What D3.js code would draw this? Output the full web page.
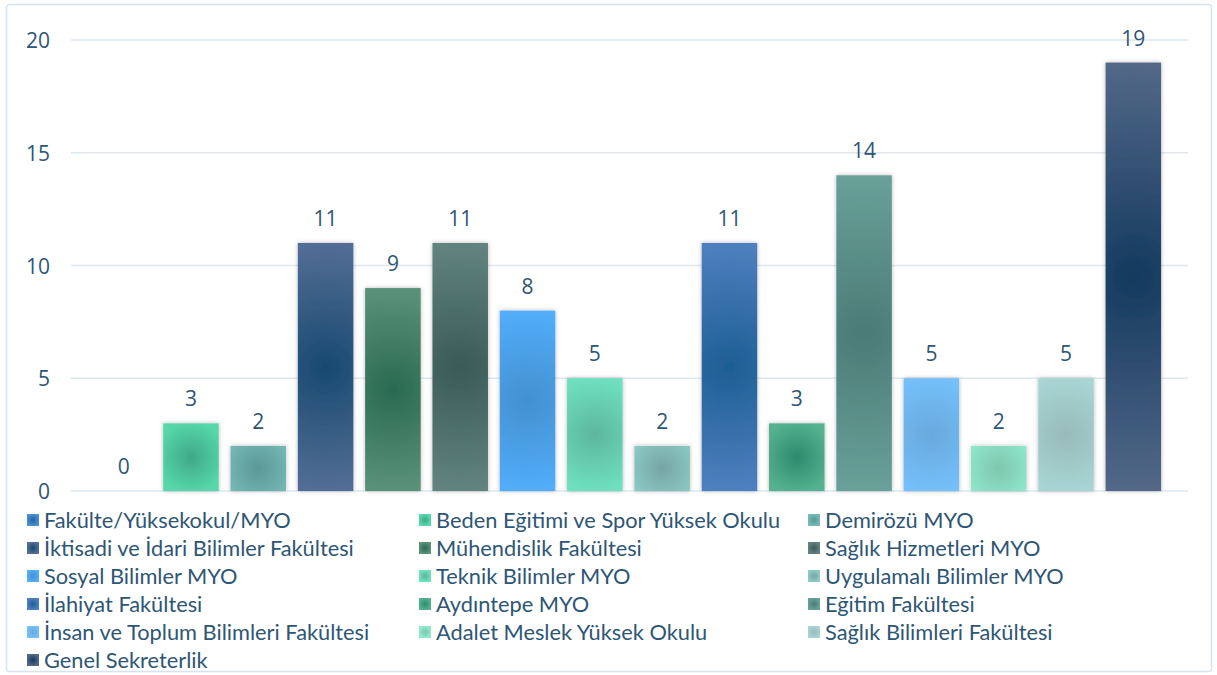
<!DOCTYPE html>
<html><head><meta charset="utf-8">
<script src="https://cdn.jsdelivr.net/npm/d3@7"></script>
<style>body{margin:0;background:#fff}svg{display:block}</style>
</head><body><svg id="c" width="1217" height="675"></svg>
<script>
const categories = ["Fakülte/Yüksekokul/MYO","Beden Eğitimi ve Spor Yüksek Okulu","Demirözü MYO","İktisadi ve İdari Bilimler Fakültesi","Mühendislik Fakültesi","Sağlık Hizmetleri MYO","Sosyal Bilimler MYO","Teknik Bilimler MYO","Uygulamalı Bilimler MYO","İlahiyat Fakültesi","Aydıntepe MYO","Eğitim Fakültesi","İnsan ve Toplum Bilimleri Fakültesi","Adalet Meslek Yüksek Okulu","Sağlık Bilimleri Fakültesi","Genel Sekreterlik"];
const values = [0,3,2,11,9,11,8,5,2,11,3,14,5,2,5,19];
const edgeColors = ["#4a8fd0","#56d8aa","#76bab6","#536e96","#5a9278","#62837f","#52adfa","#6ee0bd","#8ccac6","#4e80c0","#54b290","#68a199","#74bffa","#90e8cd","#a7d5d3","#536888"];
const centerColors = ["#1e64a8","#3fa888","#5a9897","#18496f","#2a6a52","#3a5a57","#4390cf","#5db79c","#76a6a3","#1d5e93","#2e8a6d","#4b7b76","#68aadd","#7ec6ae","#97bbba","#133a5e"];
const yTicks = [0,5,10,15,20];

const svg = d3.select("#c");
const defs = svg.append("defs");
const f = defs.append("filter").attr("id","sh").attr("x","-30%").attr("y","-10%").attr("width","160%").attr("height","120%");
f.append("feDropShadow").attr("dx",0).attr("dy",0).attr("stdDeviation",2.2).attr("flood-color","#000").attr("flood-opacity",0.28);

svg.append("rect").attr("x",6.5).attr("y",4.5).attr("width",1205).attr("height",667).attr("rx",3)
  .attr("fill","#fff").attr("stroke","#d7e4ef").attr("stroke-width",1.5);

const y = d3.scaleLinear().domain([0,20]).range([491,40]);
const x = d3.scaleBand().domain(categories).range([90,1167]).paddingInner(0.175).paddingOuter(0.0875);

const gx0 = 71, gx1 = 1188;
svg.append("g").selectAll("line").data(yTicks).join("line")
  .attr("x1",gx0).attr("x2",gx1).attr("y1",d=>y(d)).attr("y2",d=>y(d))
  .attr("stroke","#dde8f1").attr("stroke-width",1.5);

const numFont = "'Open Sans', sans-serif";
const yAxis = d3.axisLeft(y).tickValues(yTicks).tickSize(0).tickPadding(0);
const ga = svg.append("g").attr("transform","translate(50,0)").call(yAxis);
ga.select(".domain").remove();
ga.selectAll("text").attr("font-family",numFont).attr("font-size",21).attr("fill","#2e5675").attr("dy","0.36em");

categories.forEach((c,i)=>{
  const w = x.bandwidth(), h = y(0)-y(values[i]);
  const cx = x(c)+w/2, cy = y(values[i])+h/2;
  const r = Math.max(h/2, 36);
  const g = defs.append("radialGradient").attr("id","g"+i).attr("gradientUnits","userSpaceOnUse")
    .attr("cx",cx).attr("cy",cy).attr("r",r).attr("fx",cx).attr("fy",cy);
  g.append("stop").attr("offset","0").attr("stop-color",centerColors[i]);
  g.append("stop").attr("offset","1").attr("stop-color",edgeColors[i]);
  const lg = defs.append("radialGradient").attr("id","l"+i);
  lg.append("stop").attr("offset","0").attr("stop-color",centerColors[i]);
  lg.append("stop").attr("offset","1").attr("stop-color",edgeColors[i]);
});

svg.append("g").selectAll("rect").data(values).join("rect")
  .attr("x",(d,i)=>x(categories[i])).attr("y",d=>y(d))
  .attr("width",x.bandwidth()).attr("height",d=>y(0)-y(d))
  .attr("fill",(d,i)=>`url(#g${i})`).attr("filter","url(#sh)");

svg.append("g").selectAll("text").data(values).join("text")
  .attr("x",(d,i)=>x(categories[i])+x.bandwidth()/2).attr("y",d=>y(d)-17)
  .attr("text-anchor","middle").attr("font-family",numFont).attr("font-size",21)
  .attr("fill","#2e5675").text(d=>d);

const colX = [27,419,808];
const lg = svg.append("g");
categories.forEach((c,i)=>{
  const col = i%3, row = Math.floor(i/3);
  const ly = 520 + row*28;
  lg.append("rect").attr("x",colX[col]).attr("y",ly-6).attr("width",12).attr("height",12).attr("fill",`url(#l${i})`);
  lg.append("text").attr("x",colX[col]+17).attr("y",ly).attr("dy","0.35em")
    .attr("font-family","Lato, 'Open Sans', sans-serif").attr("font-size",21.8).attr("fill","#2e5675").text(c);
});
</script></body></html>
